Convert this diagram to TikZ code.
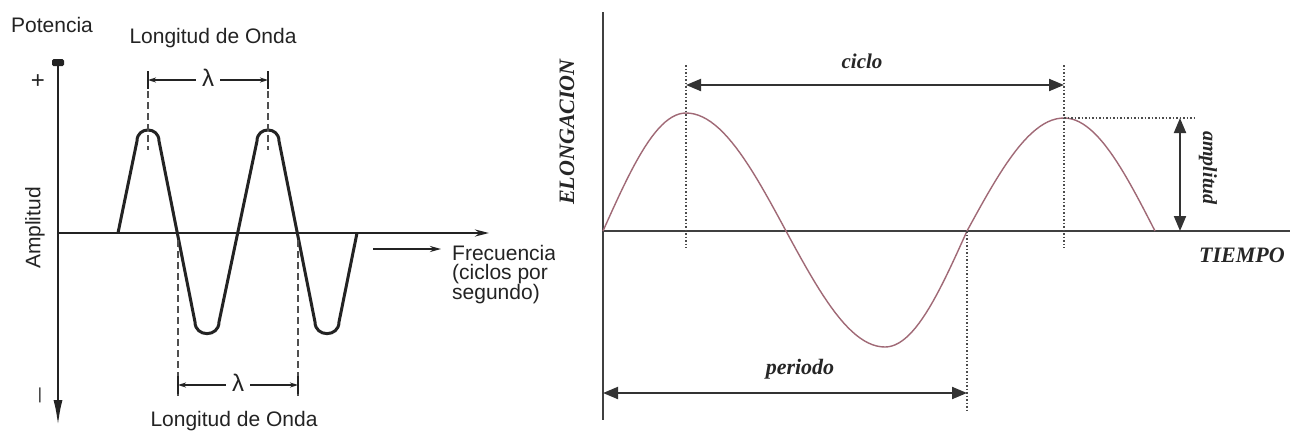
\documentclass[tikz,border=0pt]{standalone}
\usepackage{fontspec}
\setmainfont{Liberation Sans}
\newfontfamily\tnr{Liberation Serif}
\usetikzlibrary{arrows.meta}
\definecolor{wavec}{RGB}{160,105,118}
\definecolor{inkL}{RGB}{35,35,35}
\begin{document}
\begin{tikzpicture}[x=1pt,y=-1pt,
  axisL/.style={line width=2.5pt, inkL},
  waveL/.style={line width=3pt, inkL, line join=round},
  dashL/.style={line width=1.5pt, dash pattern=on 7pt off 4pt, inkL!80},
  tickL/.style={line width=1.8pt, inkL},
  dimL/.style={line width=1.5pt, inkL, -{Stealth[length=8pt,width=5pt]}},
  lbl/.style={font=\fontsize{21}{19}\selectfont, text=inkL, inner sep=0pt},
  axisR/.style={line width=2pt, black!75},
  waveR/.style={line width=1.4pt, wavec},
  dotR/.style={line width=1.5pt, dash pattern=on 1.5pt off 2pt, black!70},
  dimR/.style={line width=2pt, black!80, {Triangle[length=15pt,width=12pt]}-{Triangle[length=15pt,width=12pt]}},
  lblR/.style={font=\tnr\bfseries\itshape\fontsize{22}{22}\selectfont, text=black!85, inner sep=0pt}]
\useasboundingbox (0,0) rectangle (1290,432);
\fill[white] (0,0) rectangle (1290,432);

% ---------------- left diagram ----------------
\coordinate (Ltop) at (58,62);
\coordinate (Lbot) at (58,426);
\coordinate (LO) at (58,233);
\coordinate (Lxend) at (489,233);
\coordinate (fa) at (373,249);
\coordinate (fb) at (441,249);
\draw[axisL, -{Latex[length=26pt,width=9pt]}] (Ltop) -- (Lbot);
\fill[inkL, rounded corners=1.5pt] (52,59) rectangle (64,66);
\draw[axisL, -{Stealth[length=14pt,width=7pt]}] (LO) -- (Lxend);
\draw[line width=2pt, inkL, -{Stealth[length=11pt,width=6pt]}] (fa) -- (fb);

\draw[waveL] (118,233) -- (137,141) .. controls (137,126.3) and (159,126.3) .. (159,141)
  -- (195,322) .. controls (195,337.5) and (219,337.5) .. (219,322)
  -- (257,141) .. controls (257,126.3) and (279,126.3) .. (279,141)
  -- (315,322) .. controls (315,337.5) and (339,337.5) .. (339,322)
  -- (357,233);

% upper wavelength bracket
\coordinate (u1) at (148,80); \coordinate (u2) at (268,80);
\coordinate (u1b) at (148,150); \coordinate (u2b) at (268,150);
\node[lbl, font=\fontsize{24}{24}\selectfont] (lamU) at (208,78) {λ};
\draw[dashL] (u1) -- (u1b);
\draw[dashL] (u2) -- (u2b);
\draw[tickL] (148,71) -- (148,89);
\draw[tickL] (268,71) -- (268,89);
\draw[dimL] (lamU.west) ++(-6,2) -- (u1);
\draw[dimL] (lamU.east) ++(6,2) -- (u2);

% lower wavelength bracket
\coordinate (d1) at (178,385); \coordinate (d2) at (298,385);
\coordinate (d1t) at (178,240); \coordinate (d2t) at (298,240);
\node[lbl, font=\fontsize{24}{24}\selectfont] (lamD) at (238,383) {λ};
\draw[dashL] (d1t) -- (178,396);
\draw[dashL] (d2t) -- (298,396);
\draw[tickL] (178,376) -- (178,394);
\draw[tickL] (298,376) -- (298,394);
\draw[dimL] (lamD.west) ++(-6,2) -- (d1);
\draw[dimL] (lamD.east) ++(6,2) -- (d2);

\node[lbl] (pot) at (52,25) {Potencia};
\node[lbl] (lonU) at (213,38) {Longitud de Onda};
\node[lbl] (lonD) at (234,421) {Longitud de Onda};
\node[lbl, font=\fontsize{24}{24}\selectfont] (plus) at (38,82) {+};
\node[lbl, font=\fontsize{16}{16}\selectfont] (minus) at (40,395) {|};
\node[lbl, rotate=90] (amp) at (35,228) {Amplitud};
\begin{scope}
  \clip (440,236) rectangle (554,305);
  \node[lbl, anchor=north west, align=left] (frec) at (452,245)
    {Frecuencia\\(ciclos por\\segundo)};
\end{scope}

% ---------------- right diagram ----------------
\coordinate (Rtop) at (603,12);
\coordinate (Rbot) at (603,420);
\coordinate (RO) at (603,231);
\coordinate (Rend) at (1290,231);
\draw[axisR] (Rtop) -- (Rbot);
\draw[axisR] (RO) -- (Rend);

\draw[waveR, line join=round]
  plot[domain=0:1, samples=25] ({603+83*\x},{231-118*sin(90*\x)})
  -- plot[domain=0:1, samples=25] ({686+100*\x},{231-118*cos(90*\x)})
  -- plot[domain=0:1, samples=25] ({786+99*\x},{231+116*sin(90*\x)})
  -- plot[domain=0:1, samples=25] ({885+82*\x},{231+116*cos(90*\x)})
  -- plot[domain=0:1, samples=25] ({967+97*\x},{231-113*sin(90*\x)})
  -- plot[domain=0:1, samples=25] ({1064+91*\x},{231-113*cos(90*\x)});

\coordinate (p1t) at (686,65);  \coordinate (p1b) at (686,248);
\coordinate (p2t) at (1064,65); \coordinate (p2b) at (1064,248);
\coordinate (z2t) at (967,231); \coordinate (z2b) at (967,411);
\draw[dotR] (p1t) -- (p1b);
\draw[dotR] (p2t) -- (p2b);
\draw[dotR] (z2t) -- (z2b);

\coordinate (c1) at (686,85); \coordinate (c2) at (1064,85);
\draw[dimR] (c1) -- (c2);
\node[lblR, font=\tnr\bfseries\itshape\fontsize{21}{21}\selectfont] (ciclo) at (862,61) {ciclo};

\coordinate (q1) at (603,393); \coordinate (q2) at (967,393);
\draw[dimR] (q1) -- (q2);
\node[lblR] (periodo) at (800,369) {periodo};

\coordinate (a0) at (1064,118); \coordinate (a0e) at (1197,118);
\coordinate (a1) at (1180,118); \coordinate (a2) at (1180,231);
\draw[dotR] (a0) -- (a0e);
\draw[dimR] (a1) -- (a2);
\node[lblR, rotate=-90, font=\tnr\bfseries\itshape\fontsize{20}{20}\selectfont] (ampR) at (1208,168) {amplitud};

\node[lblR] (tiempo) at (1242,255) {TIEMPO};
\node[lblR, rotate=90] (elong) at (567,132) {ELONGACION};
\end{tikzpicture}
\end{document}
